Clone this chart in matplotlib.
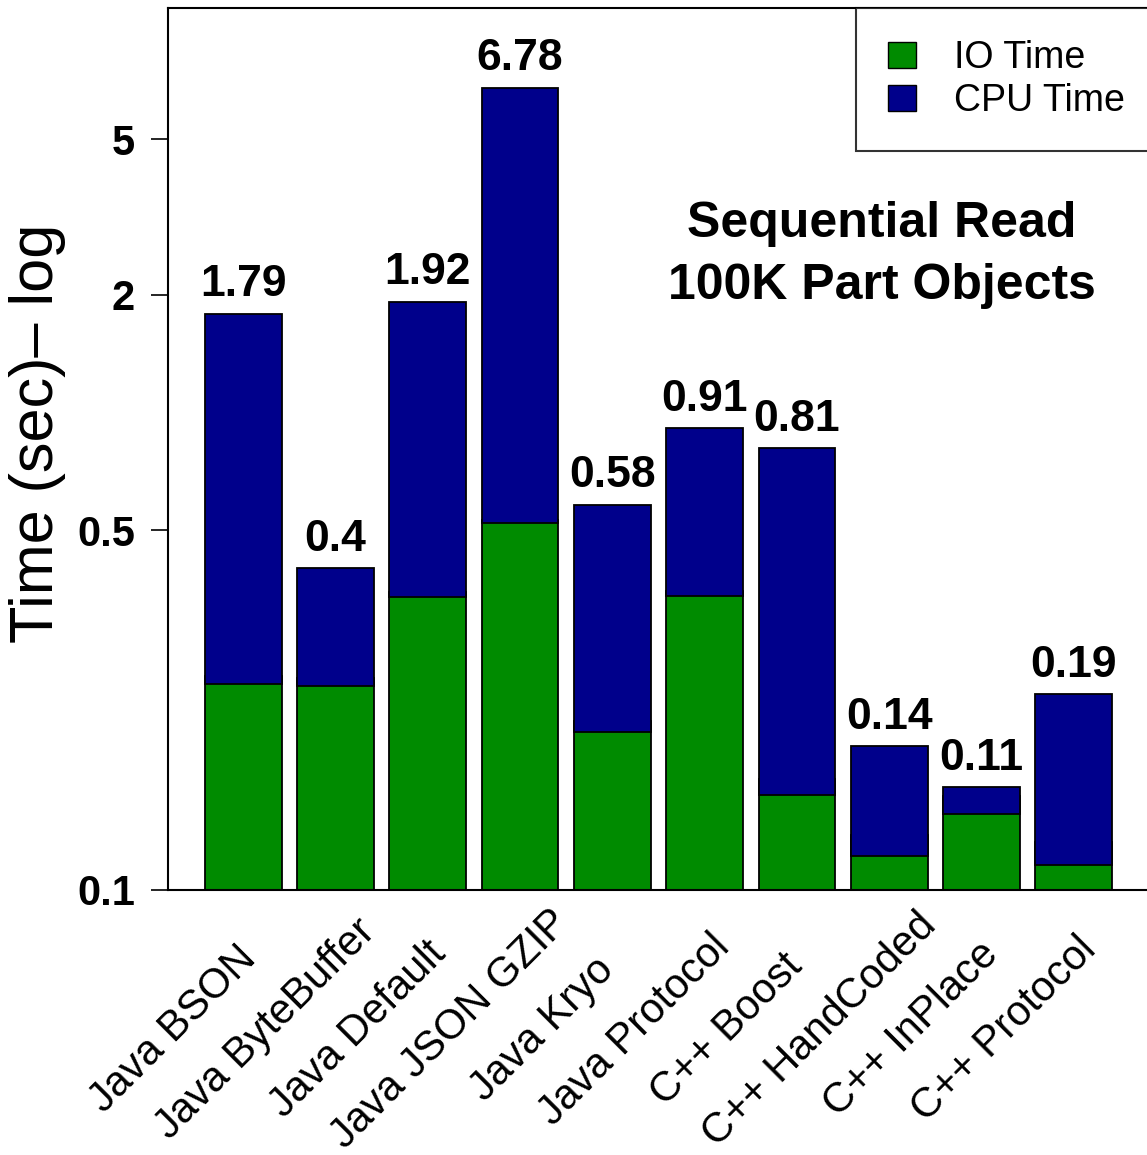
import matplotlib
matplotlib.use("Agg")
import matplotlib.pyplot as plt
from matplotlib.patches import Patch
from matplotlib.transforms import ScaledTranslation
import numpy as np

plt.rcParams['font.family'] = ['Liberation Sans', 'DejaVu Sans']

categories = ["Java BSON", "Java ByteBuffer", "Java Default", "Java JSON GZIP",
              "Java Kryo", "Java Protocol", "C++ Boost", "C++ HandCoded",
              "C++ InPlace", "C++ Protocol"]
io_time = [0.202, 0.199, 0.337, 0.521, 0.152, 0.339, 0.105, 0.073, 0.094, 0.0695]
cpu_time = [1.588, 0.201, 1.583, 6.259, 0.428, 0.571, 0.705, 0.067, 0.016, 0.1205]
total_labels = ["1.79", "0.4", "1.92", "6.78", "0.58", "0.91", "0.81", "0.14", "0.11", "0.19"]
ytick_vals = [0.06, 0.5, 2, 5]
ytick_labels = ["0.1", "0.5", "2", "5"]

green = "#008B00"
blue = "#00008B"

W, H = 1147, 1155
fig = plt.figure(figsize=(W / 100, H / 100), dpi=100)
ax = fig.add_axes([168 / W, 1 - 890 / H, (1149 - 168) / W, (890 - 8) / H])

x = np.arange(len(categories))
io = np.array(io_time)
cpu = np.array(cpu_time)
ax.bar(x, io, width=0.83, color=green, edgecolor="black", linewidth=1.3, bottom=0.01)
ax.bar(x, cpu, width=0.83, bottom=io, color=blue, edgecolor="black", linewidth=1.3)

ax.set_yscale("log")
ax.set_ylim(0.05992, 10.84)
ax.set_xlim(-0.815, 9.815)

for xi, tot, lab in zip(x, io + cpu, total_labels):
    ax.annotate(lab, (xi, tot), xytext=(0, 12.5), textcoords="offset points",
                ha="center", va="baseline", fontsize=32, fontweight="bold")

ax.set_yticks(ytick_vals)
ax.set_yticklabels(ytick_labels, fontsize=30, fontweight="bold")
ax.yaxis.set_minor_locator(matplotlib.ticker.NullLocator())
ax.tick_params(axis="y", length=12.2, width=1.2, pad=11.5)

ax.set_xticks(x)
ax.set_xticklabels(categories, rotation=45, ha="center", va="center",
                   rotation_mode="anchor", fontsize=30)
ax.tick_params(axis="x", length=0, pad=100.5)
shift = ScaledTranslation(-0.70, 0, fig.dpi_scale_trans)
for lab in ax.get_xticklabels():
    lab.set_transform(lab.get_transform() + shift)

fig.text(38 / W, 1 - 433 / H, "Time (sec)\u2013 log", rotation=90,
         ha="center", va="center", fontsize=44)

for s in ax.spines.values():
    s.set_linewidth(1.5)
ax.spines["right"].set_visible(False)

fig.text(882 / W, 1 - 224 / H, "Sequential Read", ha="center", va="center",
         fontsize=36, fontweight="bold")
fig.text(882 / W, 1 - 286 / H, "100K Part Objects", ha="center", va="center",
         fontsize=36, fontweight="bold")

handles = [Patch(facecolor=green, edgecolor="black", label="IO Time"),
           Patch(facecolor=blue, edgecolor="black", label="CPU Time")]
leg = ax.legend(handles=handles, loc="upper left",
                bbox_to_anchor=((856 - 168) / (1149 - 168), 1.0),
                fontsize=27, frameon=True, fancybox=False, borderaxespad=0,
                handlelength=0.75, handleheight=0.7, handletextpad=1.0,
                borderpad=0.85, labelspacing=0.2)
leg.get_frame().set_edgecolor("black")
leg.get_frame().set_linewidth(1.5)

fig.savefig("out.png", dpi=100)
